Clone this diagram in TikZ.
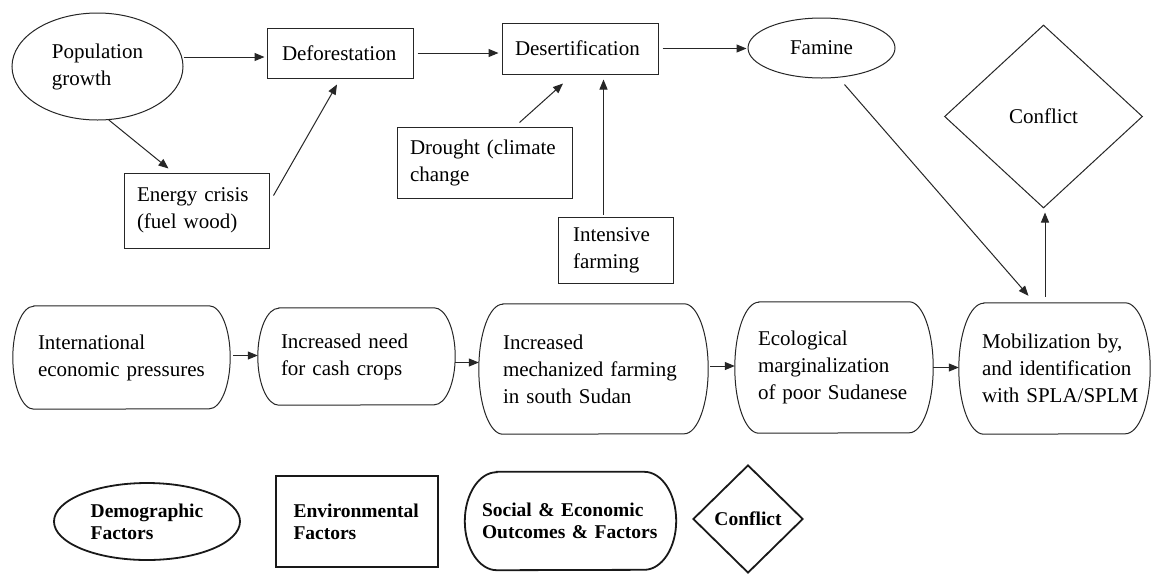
\documentclass[tikz,border=0pt]{standalone}
\usepackage{fontspec}
\setmainfont{Liberation Serif}
\usetikzlibrary{arrows.meta,shapes.geometric}
% no hyphenation inside the boxes
\hyphenpenalty=10000
\exhyphenpenalty=10000
% outline of a pill-shaped box around node #2: half-ellipse ends of
% horizontal radius #3 and vertical radius #4
\newcommand\pilloutline[4][outline]{%
  \draw[#1] ([xshift=#3]#2.north west) -- ([xshift=-#3]#2.north east)
    arc[start angle=90,end angle=-90,x radius=#3,y radius=#4]
    -- ([xshift=#3]#2.south west)
    arc[start angle=270,end angle=90,x radius=#3,y radius=#4] -- cycle;}
\begin{document}
\begin{tikzpicture}[x=1pt,y=-1pt,
  txt/.style={font=\fontsize{21}{27}\selectfont},
  keytxt/.style={font=\fontsize{19.5}{22}\selectfont\bfseries},
  outline/.style={draw=black!85,line width=1pt},
  keyline/.style={draw=black!90,line width=1.8pt},
  rbox/.style={txt,outline,rectangle,align=left,inner ysep=0pt},
  pill/.style={txt,rectangle,align=left,inner ysep=0pt},
  oval/.style={txt,outline,ellipse,align=left,inner sep=0pt},
  dia/.style={txt,outline,diamond,inner sep=0pt},
  arr/.style={draw=black!85,line width=1pt,-{Triangle[length=10pt,width=8pt]}},
]
\fill[white] (0,0) rectangle (1153,574);
\useasboundingbox (0,0) rectangle (1153,574);

% upper chain: demographic and environmental factors
\node[oval,minimum width=171pt,minimum height=107pt] (pop) at (97.5,66.5) {Population\\growth};
\node[rbox,text width=116pt,inner xsep=15pt,minimum height=50pt] (defor) at (340,53) {Deforestation};
\node[rbox,text width=130pt,inner xsep=13pt,minimum height=51pt] (desert) at (580,48.5) {Desertification};
\node[oval,minimum width=147pt,minimum height=60pt] (famine) at (821.5,48) {Famine};
\node[dia,minimum width=198pt,minimum height=183pt] (conflict) at (1043.5,116.5) {Conflict};
\node[rbox,text width=119pt,inner xsep=13pt,minimum height=75pt] (energy) at (196.5,210.5) {Energy crisis\\(fuel wood)};
\node[rbox,text width=149pt,inner xsep=13pt,minimum height=71pt] (drought) at (484.5,162.5) {\mbox{Drought (climate}\\change};
\node[rbox,text width=85pt,inner xsep=15pt,minimum height=66pt] (intens) at (615.5,250) {Intensive\\farming};

% lower chain: social and economic factors
\node[pill,text width=167pt,inner xsep=25pt,minimum height=103pt] (intl) at (121.5,357.5) {International\\\mbox{economic pressures}};
\node[pill,text width=151pt,inner xsep=23pt,minimum height=97pt] (need) at (356.5,356.5) {Increased need\\for cash crops};
\node[pill,text width=181pt,inner xsep=24pt,minimum height=130pt] (mech) at (593.5,369) {Increased\\\mbox{mechanized farming}\\in south Sudan};
\node[pill,text width=152pt,inner xsep=23pt,minimum height=131pt] (eco) at (834,367.5) {Ecological\\marginalization\\\mbox{of poor Sudanese}};
\node[pill,text width=145pt,inner xsep=23pt,minimum height=131pt] (mob) at (1054.5,368.5) {\mbox{Mobilization by,}\\\mbox{and identification}\\\mbox{with SPLA/SPLM}};
\pilloutline{intl}{21pt}{51.5pt}
\pilloutline{need}{21pt}{48.5pt}
\pilloutline{mech}{24pt}{65pt}
\pilloutline{eco}{24pt}{65.5pt}
\pilloutline{mob}{25pt}{65.5pt}

% connectors
\draw[arr,shorten >=2pt] ([yshift=-4pt]defor.west -| pop.east) -- ([yshift=-4pt]defor.west);
\draw[arr] (pop.-78) -- ([xshift=-28pt,yshift=4pt]energy.north);
\draw[arr] ([xshift=4pt,yshift=15pt]energy.east) -- ([xshift=-3pt,yshift=-6pt]defor.south);
\draw[arr,shorten >=3pt] ([xshift=4pt]defor.east) -- (defor.east -| desert.west);
\draw[arr,shorten >=1pt] ([xshift=4pt]desert.east) -- (desert.east -| famine.west);
\draw[arr] ([xshift=35pt,yshift=4pt]drought.north) -- ([xshift=-17pt,yshift=-9pt]desert.south);
\draw[arr] ([xshift=-12pt,yshift=2pt]intens.north) -- ([xshift=-12pt,yshift=-5pt]intens.north |- desert.south);
\draw[arr] ([xshift=23pt,yshift=-6pt]famine.south) -- ([xshift=-26pt,yshift=7pt]mob.north);
\draw[arr] ([xshift=1.5pt,yshift=6pt]conflict.south |- mob.north) -- ([xshift=1.5pt,yshift=-4pt]conflict.south);
\draw[arr] ([xshift=3pt,yshift=2pt]intl.east) -- ([yshift=2pt]intl.east -| need.west);
\draw[arr] ([yshift=-6pt]need.east) -- ([yshift=-6pt]need.east -| mech.west);
\draw[arr] ([xshift=2pt,yshift=3pt]mech.east) -- ([yshift=3pt]mech.east -| eco.west);
\draw[arr] (eco.east) -- (eco.east -| mob.west);

% key
\node[keytxt,keyline,ellipse,align=left,inner sep=0pt,minimum width=186pt,minimum height=77pt] (kdemo) at (147,521.5) {Demographic\\Factors};
\node[keytxt,keyline,rectangle,align=left,text width=127pt,inner xsep=17.5pt,inner ysep=0pt,minimum height=91pt] (kenv) at (357,521.5) {Environmental\\Factors};
\node[keytxt,rectangle,align=left,text width=177pt,inner xsep=17pt,inner ysep=0pt,minimum height=98pt] (ksoc) at (570.5,521) {Social \& Economic\\\mbox{Outcomes \& Factors}};
\pilloutline[keyline]{ksoc}{32pt}{49pt}
\node[keytxt,keyline,diamond,inner sep=0pt,minimum width=110pt,minimum height=108pt] (kconf) at (748,519) {Conflict};
\end{tikzpicture}
\end{document}
